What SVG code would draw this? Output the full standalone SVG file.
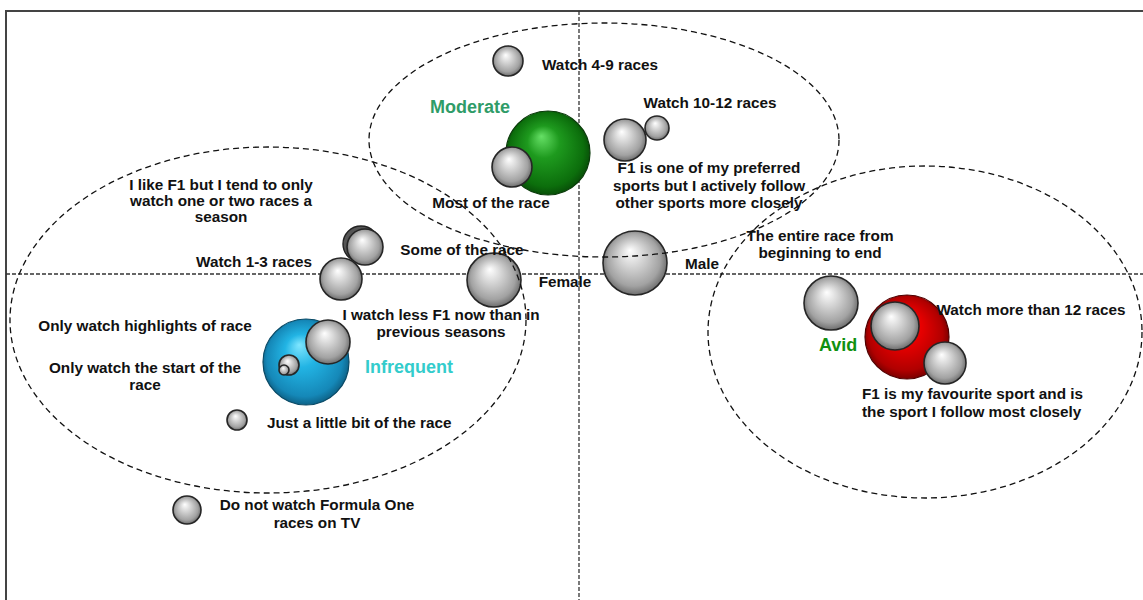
<svg xmlns="http://www.w3.org/2000/svg" width="1143" height="600" viewBox="0 0 1143 600">
<defs>
<radialGradient id="gGray" cx="0.5" cy="0.5" r="0.55" fx="0.42" fy="0.3">
<stop offset="0" stop-color="#ffffff"/>
<stop offset="0.3" stop-color="#dadada"/>
<stop offset="0.75" stop-color="#a2a2a2"/>
<stop offset="0.92" stop-color="#727272"/>
<stop offset="1" stop-color="#4a4a4a"/>
</radialGradient>
<radialGradient id="gGreen" cx="0.5" cy="0.5" r="0.55" fx="0.42" fy="0.3">
<stop offset="0" stop-color="#66e066"/>
<stop offset="0.35" stop-color="#1e9a1e"/>
<stop offset="0.8" stop-color="#0c6e0c"/>
<stop offset="1" stop-color="#064006"/>
</radialGradient>
<radialGradient id="gRed" cx="0.5" cy="0.5" r="0.55" fx="0.42" fy="0.3">
<stop offset="0" stop-color="#ff5a5a"/>
<stop offset="0.35" stop-color="#ee0000"/>
<stop offset="0.8" stop-color="#b00000"/>
<stop offset="1" stop-color="#600000"/>
</radialGradient>
<radialGradient id="gBlue" cx="0.5" cy="0.5" r="0.55" fx="0.42" fy="0.3">
<stop offset="0" stop-color="#7fe6ff"/>
<stop offset="0.35" stop-color="#22b4e4"/>
<stop offset="0.8" stop-color="#1588b8"/>
<stop offset="1" stop-color="#0a5070"/>
</radialGradient>
</defs>
<style>
.frame{fill:none;stroke:#444;stroke-width:2}
.axis{fill:none;stroke:#333;stroke-width:1.3;stroke-dasharray:4 2}
.ell{fill:none;stroke:#111;stroke-width:1.3;stroke-dasharray:6 4}
.b{fill:url(#gGray);stroke:#262626;stroke-width:1.6}
.t{font-family:"Liberation Sans",Arial,sans-serif;font-weight:bold;font-size:15.3px;fill:#111}
.c{text-anchor:middle}
.e{text-anchor:end}
.seg{font-family:"Liberation Sans",Arial,sans-serif;font-weight:bold;font-size:18px}
</style>
<rect width="1143" height="600" fill="#ffffff"/>
<polyline class="frame" points="6,600 6,11 1143,11"/>
<g id="axes">
<line class="axis" x1="6" y1="274" x2="1143" y2="274"/>
<line class="axis" x1="579" y1="11" x2="579" y2="600"/>
</g>
<g id="bubbles">
<g id="n-watch49"><circle class="b" cx="508" cy="61" r="15"/></g>
<g id="n-moderate"><circle cx="548" cy="153" r="42" fill="url(#gGreen)" stroke="#0a3a0a" stroke-width="1.2"/></g>
<g id="n-most"><circle class="b" cx="512" cy="167" r="20"/></g>
<g id="n-preferred"><circle class="b" cx="625" cy="140" r="21"/></g>
<g id="n-watch1012"><circle class="b" cx="657" cy="128" r="12"/></g>
<g id="n-male"><circle class="b" cx="635" cy="263" r="32"/></g>
<g id="n-less"><circle class="b" cx="494" cy="280" r="27"/></g>
<g id="n-watch13"><circle class="b" cx="341" cy="279" r="21"/></g>
<g id="n-like"><circle cx="361" cy="244" r="18" fill="#555" stroke="#222" stroke-width="1.4"/><circle class="b" cx="365" cy="247" r="18"/></g>
<g id="n-infrequent"><circle cx="306" cy="362" r="43" fill="url(#gBlue)" stroke="#0a4a66" stroke-width="1.2"/></g>
<g id="n-highlights"><circle class="b" cx="328" cy="342" r="22"/></g>
<g id="n-start"><circle class="b" cx="289" cy="365" r="10"/><circle class="b" cx="284" cy="370" r="5"/></g>
<g id="n-little"><circle class="b" cx="237" cy="420" r="10"/></g>
<g id="n-notwatch"><circle class="b" cx="187" cy="510" r="14"/></g>
<g id="n-entire"><circle class="b" cx="831" cy="303" r="27"/></g>
<g id="n-avid"><circle cx="907" cy="337" r="42" fill="url(#gRed)" stroke="#500000" stroke-width="1.2"/></g>
<g id="n-more12"><circle class="b" cx="895" cy="326" r="24"/></g>
<g id="n-favourite"><circle class="b" cx="945" cy="363" r="21"/></g>
</g>
<g id="labels">
<text class="t" x="542" y="70">Watch 4-9 races</text>
<text class="seg" x="430" y="113" fill="#2f9c68">Moderate</text>
<text class="t c" x="710" y="108">Watch 10-12 races</text>
<text class="t c" x="709" y="173">F1 is one of my preferred</text>
<text class="t c" x="709" y="191">sports but I actively follow</text>
<text class="t c" x="709" y="208">other sports more closely</text>
<text class="t c" x="491" y="208">Most of the race</text>
<text class="t c" x="221" y="190">I like F1 but I tend to only</text>
<text class="t c" x="221" y="206">watch one or two races a</text>
<text class="t c" x="221" y="222">season</text>
<text class="t e" x="312" y="267">Watch 1-3 races</text>
<text class="t c" x="462" y="255">Some of the race</text>
<text class="t c" x="565" y="287">Female</text>
<text class="t c" x="702" y="269">Male</text>
<text class="t c" x="820" y="241">The entire race from</text>
<text class="t c" x="820" y="258">beginning to end</text>
<text class="t c" x="1031" y="315">Watch more than 12 races</text>
<text class="seg" x="819" y="351" fill="#119111">Avid</text>
<text class="t" x="862" y="399">F1 is my favourite sport and is</text>
<text class="t" x="862" y="417">the sport I follow most closely</text>
<text class="t c" x="441" y="320">I watch less F1 now than in</text>
<text class="t c" x="441" y="337">previous seasons</text>
<text class="t c" x="145" y="331">Only watch highlights of race</text>
<text class="t c" x="145" y="373">Only watch the start of the</text>
<text class="t c" x="145" y="390">race</text>
<text class="seg" x="365" y="373" fill="#33cccc">Infrequent</text>
<text class="t" x="267" y="428">Just a little bit of the race</text>
<text class="t c" x="317" y="510">Do not watch Formula One</text>
<text class="t c" x="317" y="528">races on TV</text>
</g>
<g id="clusters">
<ellipse class="ell" cx="604" cy="140" rx="235" ry="117"/>
<ellipse class="ell" cx="268" cy="320" rx="258" ry="173"/>
<ellipse class="ell" cx="925" cy="332" rx="217" ry="166"/>
</g>
</svg>
